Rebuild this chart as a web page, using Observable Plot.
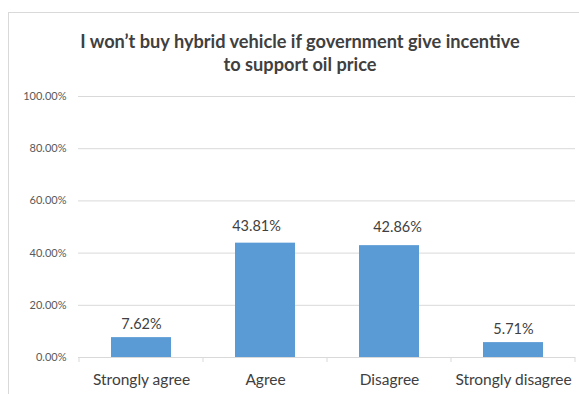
<!DOCTYPE html>
<html>
<head>
<meta charset="utf-8">
<script src="https://cdn.jsdelivr.net/npm/d3@7"></script>
<script src="https://cdn.jsdelivr.net/npm/@observablehq/plot@0.6"></script>
<style>
  html, body { margin: 0; padding: 0; background: #fff; }
  body { width: 579px; height: 394px; position: relative; overflow: hidden; font-family: Lato, "Open Sans", sans-serif; }
  #frame { position: absolute; left: 8px; top: 12px; width: 575px; height: 400px; border: 1px solid #d9d9d9; box-sizing: border-box; }
  #title { position: absolute; left: 0; top: 30px; width: 600px; text-align: center; font-size: 18.2px; font-weight: 700; line-height: 23px; color: #404040; }
  #chart { position: absolute; left: 0; top: 80px; }
</style>
</head>
<body>
<div id="frame"></div>
<div id="title">I won’t buy hybrid vehicle if government give incentive<br>to support oil price</div>
<div id="chart"></div>
<script>
// Survey responses (share of respondents)
const categories = ["Strongly agree", "Agree", "Disagree", "Strongly disagree"];
const shares = [0.0762, 0.4381, 0.4286, 0.0571];
const yTicks = [0, 0.2, 0.4, 0.6, 0.8, 1.0];

const rows = categories.map((c, i) => ({category: c, share: shares[i]}));
const pct = d3.format(".2%");
const barPadding = 0.52;

// Small ticks on the category axis, placed on band boundaries
function bandBoundaryTicks(index, scales, values, dims) {
  const x = scales.x;
  const step = x.step();
  const y0 = scales.y(0);
  const g = d3.create("svg:g").attr("stroke", "#d9d9d9");
  const edges = categories.map(c => x(c) + x.bandwidth() / 2 - step / 2);
  edges.push(x(categories[categories.length - 1]) + x.bandwidth() / 2 + step / 2);
  for (const e of edges) {
    g.append("line").attr("x1", e).attr("x2", e).attr("y1", y0).attr("y2", y0 + 5);
  }
  return g.node();
}

const labelStyle = {x: "category", y: "share", text: d => pct(d.share), fontSize: 14.5, fill: "#404040"};
const isTall = d => d.share > 0.2;

const chart = Plot.plot({
  width: 579,
  height: 314,
  marginLeft: 78,
  marginRight: 4,
  marginTop: 16,
  marginBottom: 37,
  style: {fontFamily: "Lato, 'Open Sans', sans-serif", background: "transparent"},
  x: {domain: categories, paddingInner: barPadding, paddingOuter: barPadding / 2, label: null},
  y: {domain: [0, 1], label: null},
  marks: [
    Plot.gridY(yTicks, {stroke: "#d9d9d9", strokeOpacity: 1}),
    Plot.axisY(yTicks, {tickSize: 0, tickPadding: 12, tickFormat: pct, fontSize: 11, fill: "#595959", label: null}),
    Plot.barY(rows, {x: "category", y: "share", fill: "#5b9bd5"}),
    Plot.ruleY([0], {stroke: "#d9d9d9"}),
    bandBoundaryTicks,
    // value labels above each bar
    Plot.text(rows, {...labelStyle, filter: d => !isTall(d), dy: -13}),
    Plot.text(rows, {...labelStyle, filter: d => d.category === "Agree", dy: -17, dx: -9}),
    Plot.text(rows, {...labelStyle, filter: d => d.category === "Disagree", dy: -18, dx: 8}),
    Plot.axisX({tickSize: 0, tickPadding: 16, fontSize: 15.5, fill: "#404040", label: null})
  ]
});
document.getElementById("chart").append(chart);
</script>
</body>
</html>
